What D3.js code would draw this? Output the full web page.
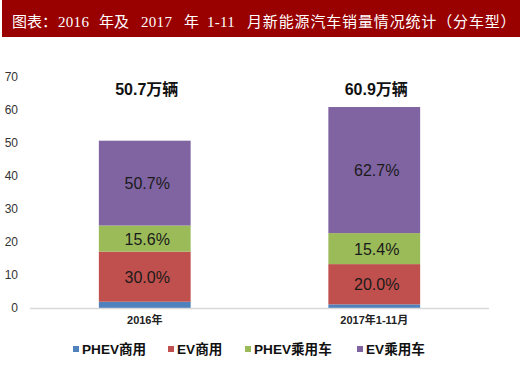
<!DOCTYPE html>
<html><head><meta charset="utf-8">
<script src="https://cdn.jsdelivr.net/npm/d3@7"></script>
<style>body{margin:0;background:#fff;} svg{display:block;}</style>
</head><body>
<svg id="c" width="520" height="368"></svg>
<script>
const titleRuns = ["图表：", "2016", "年及", "2017", "年", "1-11", "月新能源汽车销量情况统计（分车型）"];
const categories = ["2016年", "2017年1-11月"];
const seriesNames = ["PHEV商用", "EV商用", "PHEV乘用车", "EV乘用车"];
const phevCommercial = [1.9, 1.1];
const evCommercial = [15.2, 12.2];
const phevPassenger = [7.9, 9.4];
const evPassenger = [25.7, 38.2];
const shareLabels = [["", "30.0%", "15.6%", "50.7%"], ["", "20.0%", "15.4%", "62.7%"]];
const totalLabels = ["50.7万辆", "60.9万辆"];
const yTicks = [0, 10, 20, 30, 40, 50, 60, 70];
const colors = ["#4F81BD", "#C0504D", "#9BBB59", "#8064A2"];

const svg = d3.select("#c");
// title bar
svg.append("rect").attr("x", 2).attr("y", 0).attr("width", 518).attr("height", 37).attr("fill", "#990000");
const runX = [12, 58, 99, 141, 184, 207, 247];
const tt = svg.append("text").attr("y", 27).attr("fill", "#fff")
  .style("font-family", "'Liberation Serif','Noto Sans CJK SC',serif").style("font-size", "15px");
titleRuns.forEach((r, i) => {
  tt.append("tspan").attr("x", runX[i])
    .style("letter-spacing", i === 6 ? "0.85px" : (i % 2 === 1 ? "0.3px" : "0px"))
    .text(r);
});

const x = d3.scaleBand().domain(categories).range([30, 489]).paddingInner(0.6).paddingOuter(0.3);
const y = d3.scaleLinear().domain([0, 70]).range([308, 77]);

const rows = categories.map((c, i) => ({cat: c, s0: phevCommercial[i], s1: evCommercial[i], s2: phevPassenger[i], s3: evPassenger[i], idx: i}));
const stack = d3.stack().keys(["s0", "s1", "s2", "s3"])(rows);

// y axis labels
const yAxis = d3.axisLeft(y).tickValues(yTicks).tickSize(0).tickPadding(0);
const ga = svg.append("g").attr("transform", "translate(18,0)").call(yAxis);
ga.select(".domain").remove();
ga.selectAll("text").style("font-family", "Arial,'Liberation Sans',sans-serif").style("font-size", "12px").attr("fill", "#333");

// bars
stack.forEach((layer, k) => {
  svg.append("g").selectAll("rect").data(layer).join("rect")
    .attr("x", d => x(d.data.cat)).attr("width", x.bandwidth())
    .attr("y", d => y(d[1])).attr("height", d => y(d[0]) - y(d[1]))
    .attr("fill", colors[k]);
  svg.append("g").selectAll("text").data(layer).join("text")
    .attr("x", d => x(d.data.cat) + x.bandwidth() / 2 + 2.5)
    .attr("y", d => (y(d[0]) + y(d[1])) / 2 + 6)
    .attr("text-anchor", "middle").attr("fill", "#1a1a1a")
    .style("font-family", "Arial,'Liberation Sans',sans-serif").style("font-size", "16px")
    .text(d => shareLabels[d.data.idx][k]);
});

// x axis line
const xAxis = d3.axisBottom(x).tickSize(0).tickPadding(10);
const gx = svg.append("g").attr("transform", "translate(0,308)").call(xAxis);
gx.select(".domain").attr("stroke", "#d9d9d9").attr("stroke-width", 1.5).attr("d", "M30,0.5H489");
gx.selectAll("text").style("font-family", "Arial,'Liberation Sans','Noto Sans CJK SC',sans-serif")
  .style("font-size", "11px").style("font-weight", "bold").attr("fill", "#222").attr("dy", "0.55em");

// totals
svg.append("g").selectAll("text").data(categories).join("text")
  .attr("x", d => x(d) + x.bandwidth() / 2 + 2).attr("y", 95)
  .attr("text-anchor", "middle").attr("fill", "#111")
  .style("font-family", "Arial,'Liberation Sans','Noto Sans CJK SC',sans-serif")
  .style("font-size", "16px").style("font-weight", "bold")
  .text((d, i) => totalLabels[i]);

// legend
const legendX = [73, 168, 245, 357];
const lg = svg.append("g").selectAll("g").data(seriesNames).join("g")
  .attr("transform", (d, i) => `translate(${legendX[i]},349)`);
lg.append("rect").attr("x", 0).attr("y", -3).attr("width", 6).attr("height", 6).attr("fill", (d, i) => colors[i]);
lg.append("text").attr("x", 9).attr("y", 5).attr("fill", "#111")
  .style("font-family", "Arial,'Liberation Sans','Noto Sans CJK SC',sans-serif")
  .style("font-size", "13.6px").style("font-weight", "bold").text(d => d);
</script>
</body></html>
